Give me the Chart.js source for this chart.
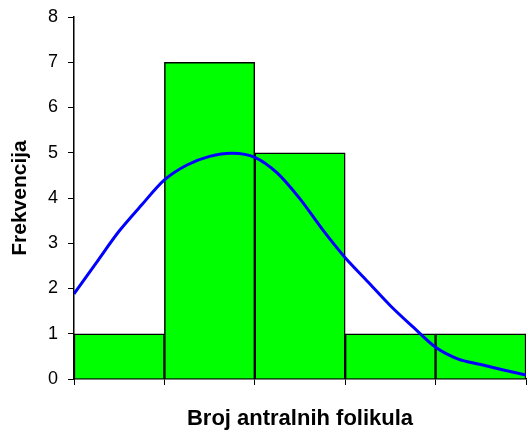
<!DOCTYPE html>
<html>
<head>
<meta charset="utf-8">
<script src="https://cdn.jsdelivr.net/npm/chart.js@4/dist/chart.umd.min.js"></script>
<style>
	html, body { margin: 0; padding: 0; background: #fff; }
	#wrap { width: 528px; height: 432px; }
</style>
</head>
<body>
<div id="wrap"><canvas id="hist"></canvas></div>
<script>
// histogram bins and counts
var binLabels = ['1', '2', '3', '4', '5'];
var counts = [1, 7, 5, 1, 1];

// fitted curve, x in bin units (0 = left edge of first bin)
var curveX = [0, 0.25, 0.5, 0.75, 1, 1.25, 1.5, 1.75, 2, 2.25, 2.5, 2.75, 3, 3.25, 3.5, 3.75, 4, 4.25, 4.5, 4.75, 5];
var curveY = [1.88, 2.58, 3.27, 3.85, 4.40, 4.73, 4.92, 4.99, 4.90, 4.55, 3.98, 3.30, 2.68, 2.15, 1.62, 1.15, 0.70, 0.44, 0.32, 0.20, 0.09];

var yTicks = [0, 1, 2, 3, 4, 5, 6, 7, 8];

var curvePoints = curveX.map(function(x, i){ return { x: x, y: curveY[i] }; });

var ctx = document.getElementById('hist').getContext('2d');
var chart = new Chart(ctx, {
	type: 'bar',
	data: {
		labels: binLabels,
		datasets: [{
			type: 'line',
			data: curvePoints,
			xAxisID: 'xl',
			borderColor: '#0000ff',
			borderWidth: 3,
			pointRadius: 0,
			tension: 0.3,
			fill: false,
			order: 0
		}, {
			data: counts,
			xAxisID: 'x',
			backgroundColor: '#00ff00',
			borderColor: '#000000',
			borderWidth: { top: 1.5, left: 1.5, right: 1.5, bottom: 0 },
			borderSkipped: false,
			grouped: false,
			barPercentage: 1,
			categoryPercentage: 1,
			order: 1
		}]
	},
	options: {
		responsive: true,
		maintainAspectRatio: false,
		animation: false,
		layout: { padding: { top: 17, right: 2, left: 0, bottom: 0 } },
		plugins: {
			legend: { display: false },
			tooltip: { enabled: false }
		},
		scales: {
			x: {
				type: 'category',
				display: false,
				offset: true
			},
			xl: {
				type: 'linear',
				position: 'bottom',
				offset: false,
				min: 0,
				max: 5,
				ticks: { stepSize: 1, display: false },
				grid: { drawOnChartArea: false, offset: false, color: '#000', tickLength: 6, tickWidth: 1 },
				border: { color: '#000', width: 1.5 },
				title: {
					display: true,
					text: 'Broj antralnih folikula',
					color: '#000',
					font: { family: 'Arial, "Liberation Sans"', size: 22, weight: 'bold' },
					padding: { top: 0, bottom: 0 }
				},
				afterFit: function(scale){ scale.height = 53; }
			},
			y: {
				min: 0,
				max: 8,
				afterBuildTicks: function(scale){
					scale.ticks = yTicks.map(function(v){ return { value: v }; });
				},
				ticks: {
					color: '#000',
					padding: 10,
					font: { family: 'Arial, "Liberation Sans"', size: 18 }
				},
				grid: { drawOnChartArea: false, color: '#000', tickLength: 6, tickWidth: 1 },
				border: { color: '#000', width: 1.5 },
				title: {
					display: true,
					text: 'Frekvencija',
					color: '#000',
					font: { family: 'Arial, "Liberation Sans"', size: 21, weight: 'bold' },
					padding: { top: 8, bottom: 0 }
				},
				afterFit: function(scale){
					scale.width = 74;
					// top label may overhang the plot area
					scale.paddingTop = 0;
					scale.paddingBottom = 0;
				}
			}
		}
	}
});
</script>
</body>
</html>
